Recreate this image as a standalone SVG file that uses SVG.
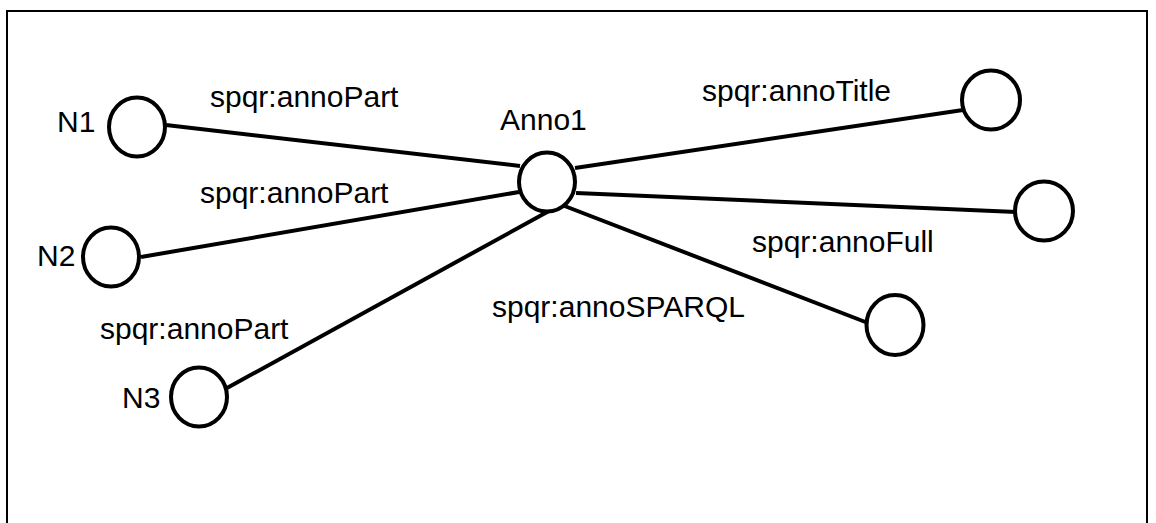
<svg xmlns="http://www.w3.org/2000/svg" width="1156" height="523" viewBox="0 0 1156 523">
  <style>
    .frame { fill: none; stroke: #000; stroke-width: 2; }
    .node { fill: #fff; stroke: #000; stroke-width: 4; }
    .edge { stroke: #000; stroke-width: 4; fill: none; }
    .lbl { font-family: "Liberation Sans", Arial, sans-serif; font-size: 30px; fill: #000; }
  </style>
  <rect width="1156" height="523" fill="#fff"/>
  <rect class="frame" x="7" y="11" width="1140" height="530"/>

  <!-- connectors -->
  <g id="edges">
    <line class="edge" x1="166" y1="125" x2="520" y2="166"/>
    <line class="edge" x1="141" y1="257" x2="519" y2="192"/>
    <line class="edge" x1="227" y1="388" x2="549" y2="211"/>
    <line class="edge" x1="575" y1="168" x2="963" y2="110"/>
    <line class="edge" x1="576" y1="193" x2="1016" y2="212"/>
    <line class="edge" x1="562" y1="205" x2="868" y2="323"/>
  </g>

  <!-- edge labels -->
  <g id="edge-labels">
    <text class="lbl" x="210" y="107">spqr:annoPart</text>
    <text class="lbl" x="200" y="203">spqr:annoPart</text>
    <text class="lbl" x="100" y="339">spqr:annoPart</text>
    <text class="lbl" x="702" y="101">spqr:annoTitle</text>
    <text class="lbl" x="752" y="252">spqr:annoFull</text>
    <text class="lbl" x="492" y="317">spqr:annoSPARQL</text>
  </g>

  <g id="N1">
    <ellipse class="node" cx="137" cy="127" rx="28" ry="29.5"/>
    <text class="lbl" x="57" y="132">N1</text>
  </g>
  <g id="N2">
    <ellipse class="node" cx="111" cy="257" rx="28" ry="29.5"/>
    <text class="lbl" x="37" y="266">N2</text>
  </g>
  <g id="N3">
    <ellipse class="node" cx="199" cy="397" rx="28" ry="29.5"/>
    <text class="lbl" x="122" y="408">N3</text>
  </g>
  <g id="Anno1">
    <ellipse class="node" cx="547" cy="182" rx="28" ry="29.5"/>
    <text class="lbl" x="500" y="130">Anno1</text>
  </g>
  <g id="title-node">
    <ellipse class="node" cx="991" cy="100" rx="29" ry="29.5"/>
  </g>
  <g id="full-node">
    <ellipse class="node" cx="1044" cy="211" rx="29" ry="29.5"/>
  </g>
  <g id="sparql-node">
    <ellipse class="node" cx="895" cy="325" rx="28.5" ry="30"/>
  </g>
</svg>
